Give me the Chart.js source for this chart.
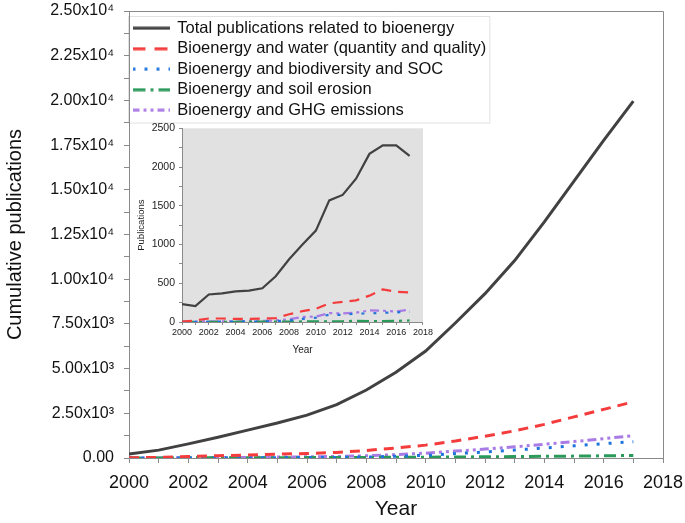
<!DOCTYPE html>
<html>
<head>
<meta charset="utf-8">
<script src="https://cdn.jsdelivr.net/npm/chart.js@4.4.1/dist/chart.umd.min.js"></script>
<style>
  body { margin: 0; background: #fff; }
  #wrap { position: relative; width: 685px; height: 523px; }
  #mainCanvas { position: absolute; left: 0; top: 0; }
  #insetCanvas { position: absolute; left: 135px; top: 118px; }
</style>
</head>
<body>
<div id="wrap">
  <canvas id="mainCanvas" width="685" height="523"></canvas>
  <canvas id="insetCanvas" width="300" height="240"></canvas>
</div>
<script>
const years = [2000, 2001, 2002, 2003, 2004, 2005, 2006, 2007, 2008, 2009,
  2010, 2011, 2012, 2013, 2014, 2015, 2016, 2017];

const seriesNames = [
  "Total publications related to bioenergy",
  "Bioenergy and water (quantity and quality)",
  "Bioenergy and biodiversity and SOC",
  "Bioenergy and soil erosion",
  "Bioenergy and GHG emissions",
];

// cumulative publications (main chart)
const cumTotal = [230, 440, 790, 1160, 1560, 1960, 2400, 2990, 3800, 4800, 5980, 7550, 9190, 11040, 13210, 15490, 17770, 19960];
const cumWater = [10, 35, 80, 125, 170, 210, 255, 310, 420, 560, 720, 950, 1220, 1520, 1880, 2300, 2720, 3140];
const cumBiodiv = [0, 3, 6, 10, 14, 19, 25, 35, 55, 95, 150, 245, 335, 445, 560, 680, 800, 915];
const cumErosion = [2, 4, 7, 10, 13, 17, 21, 26, 32, 39, 47, 57, 67, 82, 94, 106, 122, 145];
const cumGhg = [0, 5, 15, 25, 35, 50, 65, 85, 120, 190, 270, 385, 500, 625, 770, 920, 1080, 1250];

// publications per year (inset)
const yrTotal = [230, 205, 355, 370, 395, 405, 435, 590, 810, 1000, 1180, 1570, 1640, 1850, 2170, 2280, 2280, 2145];
const yrWater = [5, 20, 45, 45, 40, 40, 45, 50, 100, 140, 170, 240, 260, 280, 340, 420, 390, 380];
const yrBiodiv = [2, 3, 3, 4, 4, 5, 6, 10, 20, 40, 55, 95, 90, 110, 110, 120, 125, 130];
const yrErosion = [2, 2, 3, 3, 3, 4, 4, 5, 6, 7, 8, 10, 10, 15, 12, 12, 14, 20];
const yrGhg = [2, 5, 10, 10, 5, 15, 15, 20, 35, 65, 70, 115, 110, 120, 150, 145, 135, 160];

const colors = ["#414141", "#f43c3c", "#1f74dc", "#2a9a5a", "#a97be4"];
const dashes = [[], [10, 7], [3, 9], [12, 5, 3, 5], [9, 4, 3, 4, 3, 4]];
const legendDashes = [[], [13, 9], [3, 9], [13, 5, 3, 5], [7, 4, 3, 4, 3, 4]];

Chart.defaults.font.family = 'Arial, "Liberation Sans", sans-serif';
Chart.defaults.color = "#111";

const toPoints = (vals) => years.map((y, i) => ({ x: y, y: vals[i] }));

// small line samples for the legend, so the dash patterns show
const legendSample = (i) => {
  const c = document.createElement("canvas");
  c.width = 37;
  c.height = 4;
  const ctx = c.getContext("2d");
  ctx.strokeStyle = colors[i];
  ctx.lineWidth = 3;
  ctx.setLineDash(legendDashes[i]);
  ctx.beginPath();
  ctx.moveTo(0, 2);
  ctx.lineTo(37, 2);
  ctx.stroke();
  return c;
};

const makeDatasets = (lists, width) =>
  lists.map((vals, i) => ({
    label: seriesNames[i],
    data: toPoints(vals),
    borderColor: colors[i],
    backgroundColor: colors[i],
    borderWidth: width,
    borderDash: dashes[i],
    pointRadius: 0,
    pointStyle: legendSample(i),
    tension: 0,
    fill: false,
  }));

const supers = { 3: "\u00b3", 4: "\u2074" };
const sciLabel = (v) => {
  if (v === 0) return "0.00";
  if (v % 2500 !== 0) return "";
  const exp = Math.floor(Math.log10(v));
  const mant = (v / Math.pow(10, exp)).toFixed(2);
  return mant + "x10" + supers[exp];
};

// move the legend down a bit and put a white framed box behind it
const legendFrame = {
  id: "legendFrame",
  afterLayout(chart) {
    const lg = chart.legend;
    if (!lg) return;
    lg.top = chart.chartArea.top + 5;
    lg.bottom = lg.top + lg.height;
  },
  beforeDraw(chart) {
    const boxes = chart.legend && chart.legend.legendHitBoxes;
    if (!boxes || !boxes.length) return;
    let l = Infinity, t = Infinity, r = -Infinity, b = -Infinity;
    boxes.forEach((h) => {
      l = Math.min(l, h.left);
      t = Math.min(t, h.top);
      r = Math.max(r, h.left + h.width);
      b = Math.max(b, h.top + h.height);
    });
    const ctx = chart.ctx;
    ctx.save();
    ctx.fillStyle = "#fff";
    ctx.strokeStyle = "#e2e2e2";
    ctx.lineWidth = 1;
    ctx.fillRect(l - 4, t - 3, r - l + 7, b - t + 7);
    ctx.strokeRect(l - 4.5, t - 3.5, r - l + 8, b - t + 8);
    ctx.restore();
  },
};

// closes the axis box on the top and right
const boxFrame = {
  id: "boxFrame",
  afterDraw(chart) {
    const a = chart.chartArea;
    const ctx = chart.ctx;
    ctx.save();
    ctx.strokeStyle = "#8a8a8a";
    ctx.lineWidth = 1;
    ctx.beginPath();
    ctx.moveTo(a.left, a.top + 0.5);
    ctx.lineTo(a.right + 0.5, a.top + 0.5);
    ctx.lineTo(a.right + 0.5, a.bottom);
    ctx.stroke();
    ctx.restore();
  },
};

const mainChart = new Chart(document.getElementById("mainCanvas"), {
  type: "line",
  data: { datasets: makeDatasets([cumTotal, cumWater, cumBiodiv, cumErosion, cumGhg], 3) },
  options: {
    responsive: false,
    animation: false,
    layout: { padding: { top: 11, right: 22, left: 0, bottom: 0 } },
    plugins: {
      legend: {
        position: "chartArea",
        align: "start",
        labels: {
          usePointStyle: true,
          pointStyleWidth: 36,
          boxHeight: 16,
          padding: 4,
          color: "#111",
          font: { size: 16.5 },
        },
      },
      tooltip: { enabled: false },
    },
    scales: {
      x: {
        type: "linear",
        min: 2000,
        max: 2018,
        afterFit: (s) => {
          s.height = 65;
          s.paddingLeft = 0;
          s.paddingRight = 0;
        },
        border: { color: "#8a8a8a" },
        grid: { drawOnChartArea: false, tickLength: 5, color: "#8a8a8a" },
        ticks: {
          stepSize: 1,
          autoSkip: false,
          maxRotation: 0,
          padding: 9,
          color: "#111",
          font: { size: 18 },
          callback: (v) => (v % 2 === 0 ? String(v) : ""),
        },
        title: { display: true, text: "Year", color: "#111", font: { size: 21 }, padding: { top: 2, bottom: 1 } },
      },
      y: {
        min: 0,
        max: 25000,
        afterFit: (s) => {
          s.width = 129;
          s.paddingTop = 0;
          s.paddingBottom = 0;
        },
        border: { color: "#8a8a8a" },
        grid: { drawOnChartArea: false, tickLength: 5, color: "#8a8a8a" },
        ticks: {
          stepSize: 1250,
          maxTicksLimit: 100,
          autoSkip: false,
          padding: 10,
          color: "#111",
          font: { size: 16 },
          callback: sciLabel,
        },
        title: { display: true, text: "Cumulative publications", color: "#111", font: { size: 20 }, padding: { top: 3, bottom: 2 } },
      },
    },
  },
  plugins: [legendFrame, boxFrame],
});

// grey plot area of the inset
const insetBackground = {
  id: "insetBackground",
  beforeDraw(chart) {
    const a = chart.chartArea;
    const ctx = chart.ctx;
    ctx.save();
    ctx.fillStyle = "#e1e1e1";
    ctx.fillRect(a.left, a.top, a.right - a.left, a.bottom - a.top);
    ctx.restore();
  },
};

const insetChart = new Chart(document.getElementById("insetCanvas"), {
  type: "line",
  data: { datasets: makeDatasets([yrTotal, yrWater, yrBiodiv, yrErosion, yrGhg], 2.2) },
  options: {
    responsive: false,
    animation: false,
    layout: { padding: { top: 4, right: 10, left: 0, bottom: 0 } },
    plugins: { legend: { display: false }, tooltip: { enabled: false } },
    scales: {
      x: {
        type: "linear",
        min: 2000,
        max: 2018,
        afterFit: (s) => { s.height = 36; },
        border: { color: "#8a8a8a" },
        grid: { drawOnChartArea: false, tickLength: 3, color: "#8a8a8a" },
        ticks: {
          stepSize: 1,
          autoSkip: false,
          maxRotation: 0,
          padding: 2,
          color: "#222",
          font: { size: 9 },
          callback: (v) => (v % 2 === 0 ? String(v) : ""),
        },
        title: { display: true, text: "Year", color: "#222", font: { size: 10 }, padding: { top: 0, bottom: 2 } },
      },
      y: {
        min: 0,
        max: 2500,
        afterFit: (s) => { s.width = 47; },
        border: { color: "#8a8a8a" },
        grid: { drawOnChartArea: false, tickLength: 3, color: "#8a8a8a" },
        ticks: {
          stepSize: 250,
          autoSkip: false,
          padding: 4,
          color: "#222",
          font: { size: 10.5 },
          callback: (v) => (v % 500 === 0 ? String(v) : ""),
        },
        title: { display: true, text: "Publications", color: "#222", font: { size: 9.5 }, padding: { top: 1, bottom: 0 } },
      },
    },
  },
  plugins: [insetBackground],
});
</script>
</body>
</html>
